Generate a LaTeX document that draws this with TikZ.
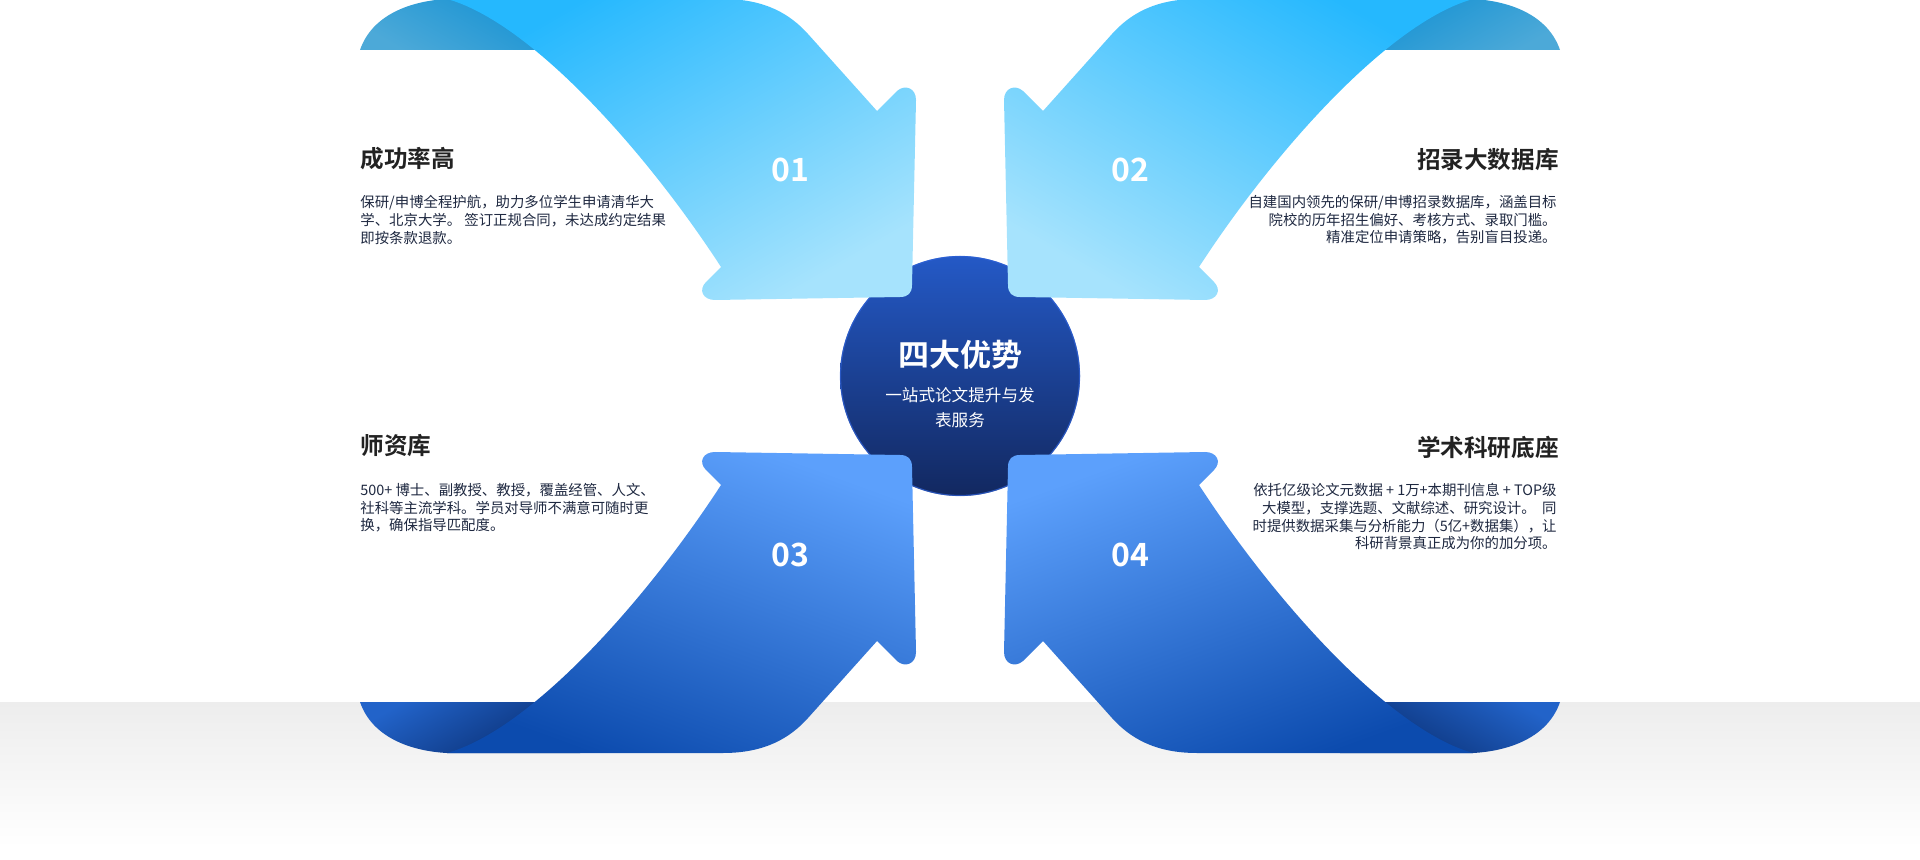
\documentclass[tikz,border=0pt]{standalone}
\usepackage{fontspec}
\newfontfamily\cjk[BoldFont={Noto Sans CJK SC Bold}]{Noto Sans CJK SC}
\definecolor{skyA}{HTML}{25B8FE}
\definecolor{skyB}{HTML}{A6E3FD}
\definecolor{curlA}{HTML}{4CA9D8}
\definecolor{curlB}{HTML}{1190D3}
\definecolor{royA}{HTML}{5CA0FC}
\definecolor{royB}{HTML}{0C4BAE}
\definecolor{navycurlA}{HTML}{2263C9}
\definecolor{navycurlB}{HTML}{092D70}
\definecolor{discA}{HTML}{2459C6}
\definecolor{discB}{HTML}{122860}
\definecolor{discrim}{HTML}{2F62D8}
\definecolor{titleink}{HTML}{222222}
\definecolor{bodyink}{HTML}{1E2840}
\definecolor{bandgray}{HTML}{EDEDED}
\newcommand{\ribbonshape}{(447,-1) -- (723,-1) .. controls (765,-1) and (790,14) .. (808,34) -- (877,111) -- (897,91) .. controls (905,84) and (916,88) .. (916,100) -- (912,285) .. controls (912,293) and (908,297) .. (900,297) -- (715,300) .. controls (703,300) and (698,290) .. (706,282) -- (721,267) .. controls (645,150) and (530,22) .. (447,-1) -- cycle}
\newcommand{\curlshape}{(360,50) .. controls (372,15) and (410,1) .. (447,-1) -- (580,-1) -- (580,50) -- cycle}
\tikzset{
  titletext/.style={text=titleink, inner sep=0pt, font=\cjk\bfseries\fontsize{11.8}{14}\selectfont},
  bodytext/.style={text=bodyink, inner sep=0pt, font=\cjk\fontsize{7.2}{8.85}\selectfont},
  numtext/.style={text=white, inner sep=0pt, font=\cjk\bfseries\fontsize{16}{18}\selectfont},
}
\begin{document}
\begin{tikzpicture}[x=0.5pt,y=-0.5pt]
\useasboundingbox (0,0) rectangle (1920,860);
% bottom shadow band
\shade[top color=bandgray, bottom color=white] (0,702) rectangle (1920,848);
% central disc
\shade[top color=discA, bottom color=discB] (960,376) circle (120);
\draw[discrim, line width=0.6pt, opacity=0.7] (960,376) circle (119.5);
% curls
\shade[top color=curlB, bottom color=curlA, shading angle=-30] \curlshape;
\begin{scope}[shift={(1920,0)}, xscale=-1]
\shade[top color=curlB, bottom color=curlA, shading angle=30] \curlshape;
\end{scope}
\begin{scope}[shift={(0,752)}, yscale=-1]
\shade[top color=navycurlA, bottom color=navycurlB, shading angle=30] \curlshape;
\end{scope}
\begin{scope}[shift={(1920,752)}, xscale=-1, yscale=-1]
\shade[top color=navycurlA, bottom color=navycurlB, shading angle=-30] \curlshape;
\end{scope}
% ribbons
\shade[top color=skyA, bottom color=skyB, shading angle=30] \ribbonshape;
\begin{scope}[shift={(1920,0)}, xscale=-1]
\shade[top color=skyA, bottom color=skyB, shading angle=-30] \ribbonshape;
\end{scope}
\begin{scope}[shift={(0,752)}, yscale=-1]
\shade[top color=royA, bottom color=royB, shading angle=-20] \ribbonshape;
\end{scope}
\begin{scope}[shift={(1920,752)}, xscale=-1, yscale=-1]
\shade[top color=royA, bottom color=royB, shading angle=20] \ribbonshape;
\end{scope}
% numbers
\node[numtext] (n1) at (790,170) {01};
\node[numtext] (n2) at (1130,170) {02};
\node[numtext] (n3) at (790,555) {03};
\node[numtext] (n4) at (1130,555) {04};
% centre text
\node[text=white, inner sep=0pt, font=\cjk\bfseries\fontsize{15.5}{18}\selectfont] (ctitle) at (960,355) {四大优势};
\node[text=white, inner sep=0pt, align=center, font=\cjk\fontsize{8.3}{12.5}\selectfont] (csub) at (960,408) {一站式论文提升与发\\表服务};
% card 1
\node[titletext, anchor=west] (t1) at (360,159) {成功率高};
\node[bodytext, anchor=north west, align=left] (b1) at (360,195) {保研/申博全程护航，助力多位学生申请清华大\\学、北京大学。 签订正规合同，未达成约定结果\\即按条款退款。};
% card 2
\node[titletext, anchor=east] (t2) at (1559,160) {招录大数据库};
\node[bodytext, anchor=north east, align=right] (b2) at (1557,195) {自建国内领先的保研/申博招录数据库，涵盖目标\\院校的历年招生偏好、考核方式、录取门槛。\\精准定位申请策略，告别盲目投递。};
% card 3
\node[titletext, anchor=west] (t3) at (360,446) {师资库};
\node[bodytext, anchor=north west, align=left] (b3) at (360,483) {500+ 博士、副教授、教授，覆盖经管、人文、\\社科等主流学科。学员对导师不满意可随时更\\换，确保指导匹配度。};
% card 4
\node[titletext, anchor=east] (t4) at (1559,447) {学术科研底座};
\node[bodytext, anchor=north east, align=right] (b4) at (1557,483) {依托亿级论文元数据 + 1万+本期刊信息 + TOP级\\大模型，支撑选题、文献综述、研究设计。 \ 同\\时提供数据采集与分析能力（5亿+数据集），让\\科研背景真正成为你的加分项。};
\end{tikzpicture}
\end{document}
